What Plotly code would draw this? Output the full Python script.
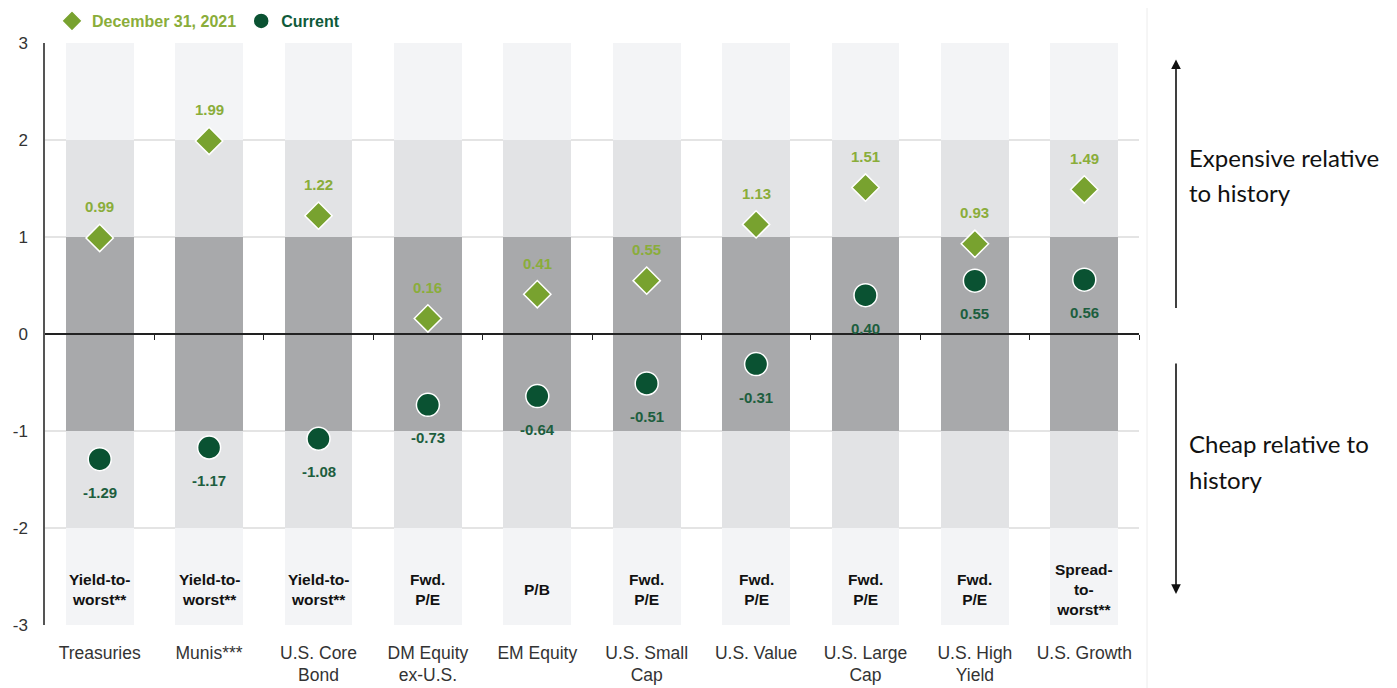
import plotly.graph_objects as go

categories = ["Treasuries", "Munis***", "U.S. Core<br>Bond", "DM Equity<br>ex-U.S.", "EM Equity",
              "U.S. Small<br>Cap", "U.S. Value", "U.S. Large<br>Cap", "U.S. High<br>Yield", "U.S. Growth"]
metrics = ["Yield-to-<br>worst**", "Yield-to-<br>worst**", "Yield-to-<br>worst**", "Fwd.<br>P/E", "P/B",
           "Fwd.<br>P/E", "Fwd.<br>P/E", "Fwd.<br>P/E", "Fwd.<br>P/E", "Spread-<br>to-<br>worst**"]
dec_2021 = [0.99, 1.99, 1.22, 0.16, 0.41, 0.55, 1.13, 1.51, 0.93, 1.49]
current = [-1.29, -1.17, -1.08, -0.73, -0.64, -0.51, -0.31, 0.40, 0.55, 0.56]
y_ticks = [3, 2, 1, 0, -1, -2, -3]
bands = [(-3, 6, "#f3f4f6"), (-2, 4, "#e2e3e5"), (-1, 2, "#a8a9ab")]

x = list(range(len(categories)))
FONT = "Liberation Sans, Arial, sans-serif"
GREEN_L = "#78a22f"
GREEN_L_TXT = "#8aad3a"
GREEN_D = "#0a5232"
GREEN_D_TXT = "#1d5e3e"

OFF = 8  # page body margin offset
W, H = 1397, 688
PLOT_L, PLOT_R, PLOT_T, PLOT_B = 45, 1139, 43, 625  # target on-screen plot area
ML, MT = PLOT_L - OFF, PLOT_T - OFF
MR = W - ML - (PLOT_R - PLOT_L)
MB = H - MT - (PLOT_B - PLOT_T)
PW, PH = PLOT_R - PLOT_L, PLOT_B - PLOT_T

def px_x(p):  # screen pixel x -> paper x
    return (p - PLOT_L) / PW

def px_y(p):  # screen pixel y -> paper y
    return 1 - (p - PLOT_T) / PH

fig = go.Figure()
for base, h, col in bands:
    fig.add_trace(go.Bar(x=x, y=[h] * len(x), base=base, width=0.62, marker=dict(color=col, line=dict(width=0)),
                         showlegend=False, hoverinfo="skip"))

fig.add_trace(go.Scatter(x=x, y=dec_2021, mode="markers",
                         name="<b><span style='color:#8aad3a'>December 31, 2021</span></b>",
                         marker=dict(symbol="diamond", size=21, color=GREEN_L, line=dict(color="white", width=1.5))))
fig.add_trace(go.Scatter(x=x, y=current, mode="markers",
                         name="<b><span style='color:#0f5a3a'>Current</span></b>",
                         marker=dict(symbol="circle", size=23, color=GREEN_D, line=dict(color="white", width=1.5))))
# invisible trace for zero-line axis
fig.add_trace(go.Scatter(x=[-0.5, 9.5], y=[0, 0], xaxis="x2", mode="lines", line=dict(width=0),
                         showlegend=False, hoverinfo="skip"))

ann = []
for xi, v in zip(x, dec_2021):
    ann.append(dict(x=xi, y=v, text=f"<b>{v:.2f}</b>", showarrow=False, yshift=31,
                    font=dict(family=FONT, size=15, color=GREEN_L_TXT)))
for xi, v in zip(x, current):
    ann.append(dict(x=xi, y=v, text=f"<b>{v:.2f}</b>", showarrow=False, yshift=-33,
                    font=dict(family=FONT, size=15, color=GREEN_D_TXT)))
for xi, m in zip(x, metrics):
    ann.append(dict(x=xi, y=-2.63, text=f"<b>{m}</b>", showarrow=False,
                    font=dict(family=FONT, size=15.5, color="#111111")))

# right-side text and arrows
side_lines = [("Expensive relative", 157), ("to history", 193), ("Cheap relative to", 443), ("history", 479)]
for txt, py in side_lines:
    ann.append(dict(xref="paper", yref="paper", x=px_x(1187), y=px_y(py),
                    xanchor="left", yanchor="middle", text=txt, showarrow=False,
                    font=dict(family="Lato, sans-serif", size=24, color="#111111")))
ann.append(dict(xref="paper", yref="y", x=px_x(1176), y=2.83, ax=0, ay=250, axref="pixel", ayref="pixel",
                text="", showarrow=True, arrowhead=2, arrowsize=1.2, arrowwidth=1.6, arrowcolor="#111111"))
ann.append(dict(xref="paper", yref="y", x=px_x(1176), y=-2.68, ax=0, ay=-232, axref="pixel", ayref="pixel",
                text="", showarrow=True, arrowhead=2, arrowsize=1.2, arrowwidth=1.6, arrowcolor="#111111"))

fig.update_layout(
    width=W, height=H,
    margin=dict(l=ML, r=MR, t=MT, b=MB, autoexpand=False),
    paper_bgcolor="white", plot_bgcolor="white",
    barmode="overlay", bargap=0,
    annotations=ann,
    showlegend=True,
    legend=dict(orientation="h", xref="container", yref="container", x=(52 - OFF) / W, y=1 - (21 - OFF) / H,
                xanchor="left", yanchor="middle",
                font=dict(family=FONT, size=16, color=GREEN_L), bgcolor="rgba(0,0,0,0)",
                itemsizing="trace", traceorder="normal", tracegroupgap=0),
    xaxis=dict(range=[-0.5, 9.5], tickvals=x, ticktext=categories, showgrid=False, zeroline=False,
               showline=False, ticks="", ticklabelstandoff=15,
               tickfont=dict(family=FONT, size=17.5, color="#333333")),
    xaxis2=dict(range=[-0.5, 9.5], overlaying="x", anchor="free", position=0.5, side="bottom",
                showline=True, linecolor="#222222", linewidth=1.5, ticks="outside", ticklen=5,
                tickcolor="#222222", tickwidth=1.2, tickvals=[i + 0.5 for i in x],
                showticklabels=False, showgrid=False, zeroline=False, layer="above traces"),
    yaxis=dict(range=[-3, 3], tickvals=y_ticks, ticktext=[str(t) for t in y_ticks], showgrid=True,
               gridcolor="#e4e4e4", gridwidth=1.5, zeroline=False, showline=True, linecolor="#555555",
               linewidth=1.5, ticks="", ticklabelstandoff=12,
               tickfont=dict(family=FONT, size=17, color="#333333")),
    shapes=[dict(type="line", xref="paper", yref="paper", x0=px_x(1147), x1=px_x(1147), y0=px_y(700), y1=px_y(-10),
                 line=dict(color="#ececec", width=1))],
)
fig.write_html("out.html")
